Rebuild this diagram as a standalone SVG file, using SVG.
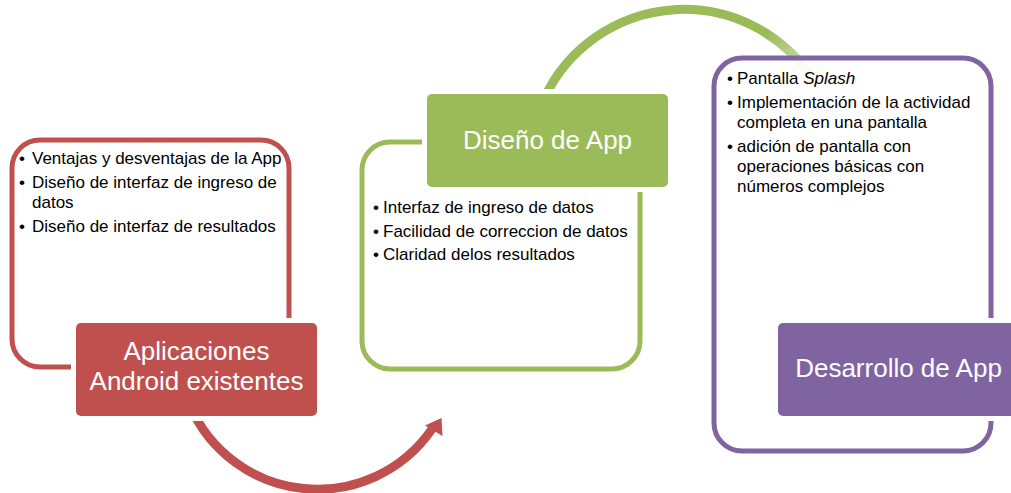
<svg xmlns="http://www.w3.org/2000/svg" width="1011" height="493" viewBox="0 0 1011 493">
<style>
.body{font-family:"Liberation Sans",Arial,sans-serif;font-size:17px;fill:#000}
.title{font-family:"Liberation Sans",Arial,sans-serif;font-size:26px;fill:#fff;text-anchor:middle}
.outer{stroke-width:5}
.gap{fill:#fff}
</style>
<defs>
<linearGradient id="gfade" gradientUnits="userSpaceOnUse" x1="770" y1="30" x2="825" y2="90">
<stop offset="0" stop-color="#9BBB59" stop-opacity="1"/>
<stop offset="0.5" stop-color="#9BBB59" stop-opacity="0.6"/>
<stop offset="1" stop-color="#9BBB59" stop-opacity="0.3"/>
</linearGradient>
</defs>
<rect width="1011" height="493" fill="#fff"/>
<g id="connectors">
<path d="M 189.7 405 A 139 139 0 0 0 432 429" fill="none" stroke="#C0504D" stroke-width="9"/>
<polygon points="441.5,418 425,425.5 442.5,436" fill="#C0504D"/>
<path d="M 543.5 100 A 154 154 0 0 1 812 78" fill="none" stroke="url(#gfade)" stroke-width="9"/>
<polygon points="819.7,89.7 820.3,72.5 803.7,83.5" fill="url(#gfade)"/>
</g>
<g id="node-aplicaciones">
<rect class="outer" x="12" y="140" width="277" height="227" rx="28" fill="#fff" fill-opacity="0.88" stroke="#C0504D"/>
<rect class="gap" x="71" y="318" width="251" height="103"/>
<rect x="76" y="323" width="241" height="93" rx="5" fill="#C0504D"/>
<text class="title" x="196.5" y="360">Aplicaciones</text>
<text class="title" x="196.5" y="390">Android existentes</text>
<text class="body" x="19" y="164">•</text>
<text class="body" x="32" y="164">Ventajas y desventajas de la App</text>
<text class="body" x="19" y="188">•</text>
<text class="body" x="32" y="188">Diseño de interfaz de ingreso de</text>
<text class="body" x="32" y="208">datos</text>
<text class="body" x="19" y="232">•</text>
<text class="body" x="32" y="232">Diseño de interfaz de resultados</text>
</g>
<g id="node-diseno">
<rect class="outer" x="362" y="142" width="278" height="227" rx="28" fill="#fff" fill-opacity="0.88" stroke="#9BBB59"/>
<rect class="gap" x="422" y="89" width="251" height="103"/>
<rect x="427" y="94" width="241" height="93" rx="5" fill="#9BBB59"/>
<text class="title" x="547.5" y="149">Diseño de App</text>
<text class="body" x="373" y="213">•</text>
<text class="body" x="383" y="213">Interfaz de ingreso de datos</text>
<text class="body" x="373" y="237">•</text>
<text class="body" x="383" y="237">Facilidad de correccion de datos</text>
<text class="body" x="373" y="260">•</text>
<text class="body" x="383" y="260">Claridad delos resultados</text>
</g>
<g id="node-desarrollo">
<rect class="outer" x="714" y="58" width="277" height="393" rx="28" fill="#fff" fill-opacity="0.88" stroke="#8064A2"/>
<rect class="gap" x="773" y="318" width="251" height="103"/>
<rect x="778" y="323" width="241" height="93" rx="5" fill="#8064A2"/>
<text class="title" x="898.5" y="377">Desarrollo de App</text>
<text class="body" x="727" y="84">•</text>
<text class="body" x="737" y="84">Pantalla <tspan font-style="italic">Splash</tspan></text>
<text class="body" x="727" y="108">•</text>
<text class="body" x="737" y="108">Implementación de la actividad</text>
<text class="body" x="737" y="128">completa en una pantalla</text>
<text class="body" x="727" y="152">•</text>
<text class="body" x="737" y="152">adición de pantalla con</text>
<text class="body" x="737" y="172">operaciones básicas con</text>
<text class="body" x="737" y="192">números complejos</text>
</g>
</svg>
